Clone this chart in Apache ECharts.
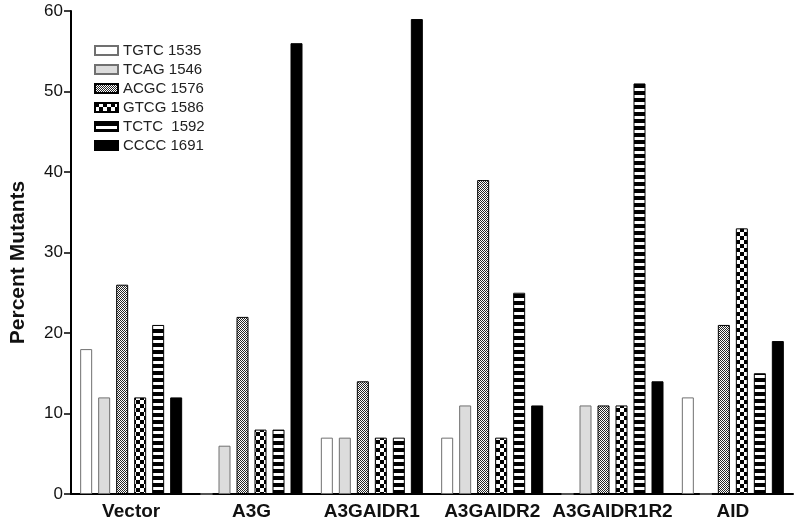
<!DOCTYPE html>
<html>
<head>
<meta charset="utf-8">
<script src="https://cdn.jsdelivr.net/npm/echarts@6/dist/echarts.min.js"></script>
<style>
  html, body { margin: 0; padding: 0; background: #fff; }
  #main { width: 800px; height: 528px; }
</style>
</head>
<body>
<div id="main"></div>
<script>
var categories = ['Vector', 'A3G', 'A3GAIDR1', 'A3GAIDR2', 'A3GAIDR1R2', 'AID'];
var seriesNames = ['TGTC 1535', 'TCAG 1546', 'ACGC 1576', 'GTCG 1586', 'TCTC  1592', 'CCCC 1691'];
var tgtc = [18, 0, 7, 7, 0, 12];
var tcag = [12, 6, 7, 11, 11, 0];
var acgc = [26, 22, 14, 39, 11, 21];
var gtcg = [12, 8, 7, 7, 11, 33];
var tctc = [21, 8, 7, 25, 51, 15];
var cccc = [12, 56, 59, 11, 14, 19];
var yTicks = [0, 10, 20, 30, 40, 50, 60];

var FONT = 'Arial, "Liberation Sans", sans-serif';

// fill patterns
function makePattern(w, h, draw) {
	var c = document.createElement('canvas');
	c.width = w;
	c.height = h;
	var ctx = c.getContext('2d');
	ctx.fillStyle = '#fff';
	ctx.fillRect(0, 0, w, h);
	ctx.fillStyle = '#000';
	draw(ctx);
	return { image: c, repeat: 'repeat' };
}

var finePat = makePattern(2, 2, function (ctx) {
	ctx.fillStyle = '#262626';
	ctx.fillRect(0, 0, 1, 1);
	ctx.fillRect(1, 1, 1, 1);
});
var checkPat = makePattern(8, 8, function (ctx) {
	ctx.fillRect(0, 0, 4, 4);
	ctx.fillRect(4, 4, 4, 4);
});
var stripePat = makePattern(4, 7, function (ctx) {
	ctx.fillRect(0, 0, 4, 4);
});

var fills = ['#ffffff', '#dcdcdc', finePat, checkPat, stripePat, '#000000'];
var borders = ['#707070', '#707070', '#000', '#000', '#000', '#000'];
var values = [tgtc, tcag, acgc, gtcg, tctc, cccc];

var chart = echarts.init(document.getElementById('main'), null, { renderer: 'canvas' });

var series = [];
for (var i = 0; i < values.length; i++) {
	series.push({
		name: seriesNames[i],
		type: 'bar',
		data: values[i],
		barWidth: 12,
		barGap: '50%',
		itemStyle: {
			color: fills[i],
			borderColor: borders[i],
			borderWidth: 1
		}
	});
}

var option = {
	backgroundColor: '#ffffff',
	animation: false,
	textStyle: { fontFamily: FONT },
	legend: {
		orient: 'vertical',
		left: 94,
		top: 43,
		padding: 0,
		itemWidth: 23,
		itemHeight: 9,
		itemGap: 4,
		icon: 'rect',
		textStyle: { fontFamily: FONT, fontSize: 15, color: '#222' },
		data: seriesNames
	},
	grid: { left: 61, right: 7, top: 11, bottom: 34, containLabel: false },
	xAxis: {
		type: 'category',
		data: categories,
		axisLine: { lineStyle: { color: '#000', width: 2 } },
		axisTick: { alignWithLabel: true, length: 5, lineStyle: { color: '#000', width: 1.5 } },
		axisLabel: { interval: 0, fontFamily: FONT, fontSize: 19, fontWeight: 'bold', color: '#111', margin: 8 }
	},
	yAxis: {
		type: 'value',
		min: yTicks[0],
		max: yTicks[yTicks.length - 1],
		interval: 10,
		name: 'Percent Mutants',
		nameLocation: 'middle',
		nameGap: 42,
		nameTextStyle: { fontFamily: FONT, fontSize: 21, fontWeight: 'bold', color: '#111', padding: [0, 20, 0, 0] },
		axisLine: { show: true, lineStyle: { color: '#000', width: 2 } },
		axisTick: { show: true, inside: false, length: 7, lineStyle: { color: '#000', width: 1.5 } },
		axisLabel: { fontFamily: FONT, fontSize: 17, color: '#111', margin: 8 },
		splitLine: { show: false }
	},
	series: series
};

chart.setOption(option);
</script>
</body>
</html>
